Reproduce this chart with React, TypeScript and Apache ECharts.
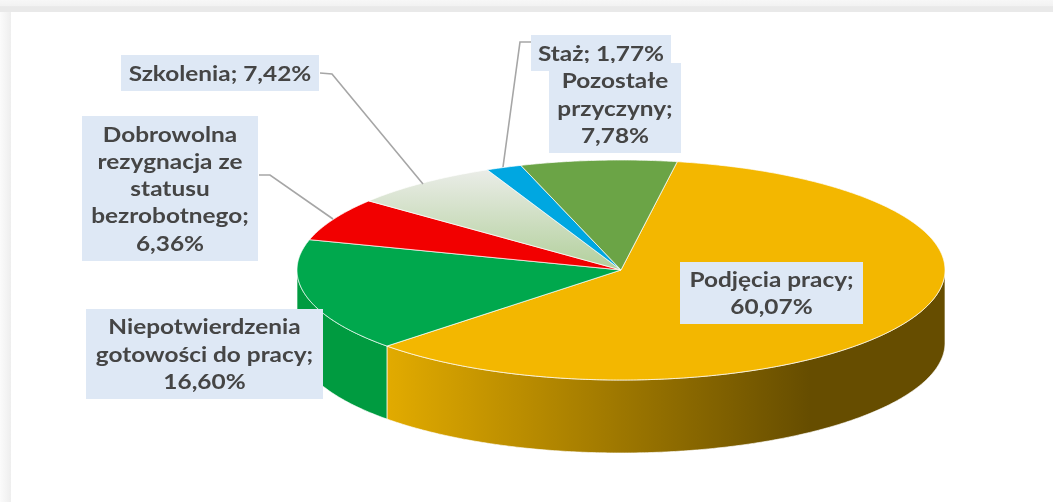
import React, { useEffect, useRef } from "react";
import * as echarts from "echarts";

const categories = [
  "Podjęcia pracy",
  "Niepotwierdzenia gotowości do pracy",
  "Dobrowolna rezygnacja ze statusu bezrobotnego",
  "Szkolenia",
  "Staż",
  "Pozostałe przyczyny",
];
const shares = [60.07, 16.6, 6.36, 7.42, 1.77, 7.78];
const labelLines = [
  ["Podjęcia pracy;"],
  ["Niepotwierdzenia", "gotowości do pracy;"],
  ["Dobrowolna", "rezygnacja ze", "statusu", "bezrobotnego;"],
  ["Szkolenia;"],
  ["Staż;"],
  ["Pozostałe", "przyczyny;"],
];
const inlinePercent = [false, false, false, true, true, false];

// layout (not data)
const CX = 621;
const CY = 270;
const RX = 324;
const RY = 110;
const DEPTH = 73;
const START_DEG = 10;
const boxes = [
  [680, 262, 863, 324],
  [86, 309, 323, 399],
  [82, 116, 258, 261],
  [121, 55, 319, 91],
  [531, 35, 671, 71],
  [549, 63, 681, 153],
];
const leaders: number[][][] = [
  [],
  [],
  [[259, 175], [270, 175], [333, 219]],
  [[320, 73], [332, 74], [423, 184]],
  [[531, 42], [520, 42], [503, 167]],
  [],
];
const topFills: any[] = [
  "#F3B700",
  "#00A84D",
  "#F20000",
  new echarts.graphic.LinearGradient(0, 172, 0, 268, [
    { offset: 0, color: "#E9ECE6" },
    { offset: 1, color: "#B3D09D" },
  ], true),
  "#00A7E1",
  "#6BA446",
];
const wallFills: any[] = [
  new echarts.graphic.LinearGradient(386, 0, 810, 0, [
    { offset: 0, color: "#E2AB00" },
    { offset: 1, color: "#664D00" },
  ], true),
  "#009B40",
];

const fmt = (v: number) => v.toFixed(2).replace(".", ",") + "%";
const starts: number[] = [];
shares.reduce((acc, v, i) => {
  starts[i] = acc;
  return acc + v;
}, 0);

const point = (deg: number, dy = 0) => {
  const a = (deg * Math.PI) / 180;
  return [CX + RX * Math.sin(a), CY - RY * Math.cos(a) + dy];
};
const arc = (from: number, to: number, dy = 0) => {
  const pts: number[][] = [];
  const n = Math.max(2, Math.ceil(Math.abs(to - from) * 2));
  for (let i = 0; i <= n; i++) pts.push(point(from + ((to - from) * i) / n, dy));
  return pts;
};
const angleOf = (pct: number) => START_DEG + (pct / 100) * 360;

function renderWall(params: any, api: any) {
  const a0 = Math.max(angleOf(api.value(1)), 90);
  const a1 = Math.min(angleOf(api.value(1) + api.value(0)), 270);
  if (a1 <= a0) return { type: "group", children: [] };
  const points = [...arc(a0, a1), ...arc(a1, a0, DEPTH)];
  return {
    type: "polygon",
    shape: { points },
    style: {
      fill: wallFills[params.dataIndex] || "#888",
      stroke: "rgba(255,255,255,0.65)",
      lineWidth: 1,
    },
  };
}

function renderTop(params: any, api: any) {
  const a0 = angleOf(api.value(1));
  const a1 = angleOf(api.value(1) + api.value(0));
  return {
    type: "polygon",
    shape: { points: [[CX, CY], ...arc(a0, a1)] },
    style: {
      fill: topFills[params.dataIndex],
      stroke: "rgba(255,255,255,0.7)",
      lineWidth: 1,
    },
  };
}

const TEXT_FONT = 'bold 20px Lato, sans-serif';
const TEXT_STRETCH = 1.22;

function labelGraphics() {
  const out: any[] = [];
  shares.forEach((v, i) => {
    const [x0, y0, x1, y1] = boxes[i];
    const z = i === 5 ? 12 : 10;
    out.push({
      type: "rect",
      z,
      shape: { x: x0, y: y0, width: x1 - x0, height: y1 - y0 },
      style: { fill: "#DEE8F5" },
    });
    const lines = [...labelLines[i]];
    if (inlinePercent[i]) lines[lines.length - 1] += " " + fmt(v);
    else lines.push(fmt(v));
    const lh = 27.3;
    const mid = i === 4 ? 53 : (y0 + y1) / 2;
    out.push({
      type: "text",
      z: z + 1,
      x: (x0 + x1) / 2,
      y: mid,
      scaleX: TEXT_STRETCH,
      style: {
        text: lines.join("\n"),
        font: TEXT_FONT,
        fill: "#454545",
        align: "center",
        verticalAlign: "middle",
        lineHeight: lh,
      },
    });
    if (leaders[i].length) {
      out.push({
        type: "polyline",
        z: 5,
        shape: { points: leaders[i] },
        style: { stroke: "#A6A6A6", lineWidth: 1.6, fill: "none" },
      });
    }
  });
  return out;
}

const frame: any[] = [
  {
    type: "rect",
    z: 0,
    shape: { x: 0, y: 0, width: 1053, height: 12 },
    style: {
      fill: new echarts.graphic.LinearGradient(0, 0, 0, 12, [
        { offset: 0, color: "#F7F7F7" },
        { offset: 0.5, color: "#F2F2F2" },
        { offset: 0.55, color: "#E9E9E9" },
        { offset: 1, color: "#E9E9E9" },
      ], true),
    },
  },
  {
    type: "rect",
    z: 0,
    shape: { x: 0, y: 12, width: 11, height: 490 },
    style: {
      fill: new echarts.graphic.LinearGradient(0, 0, 11, 0, [
        { offset: 0, color: "#FBFBFB" },
        { offset: 1, color: "#EEEEEE" },
      ], true),
    },
  },
];

export default function App() {
  const ref = useRef<HTMLDivElement>(null);
  useEffect(() => {
    const chart = echarts.init(ref.current!, null, { renderer: "svg" });
    const seriesData = shares.map((v, i) => ({ name: categories[i], value: [v, starts[i]] }));
    chart.setOption({
      animation: false,
      backgroundColor: "#FFFFFF",
      graphic: { elements: [...frame, ...labelGraphics()] },
      series: [
        { type: "custom", coordinateSystem: "none", z: 2, renderItem: renderWall, data: seriesData, silent: true },
        { type: "custom", coordinateSystem: "none", z: 3, renderItem: renderTop, data: seriesData, silent: true },
      ],
    });
    return () => chart.dispose();
  }, []);
  return (
    <div
      ref={ref}
      style={{ position: "fixed", left: 0, top: 0, width: 1053, height: 502, filter: "blur(0.7px)" }}
    />
  );
}
